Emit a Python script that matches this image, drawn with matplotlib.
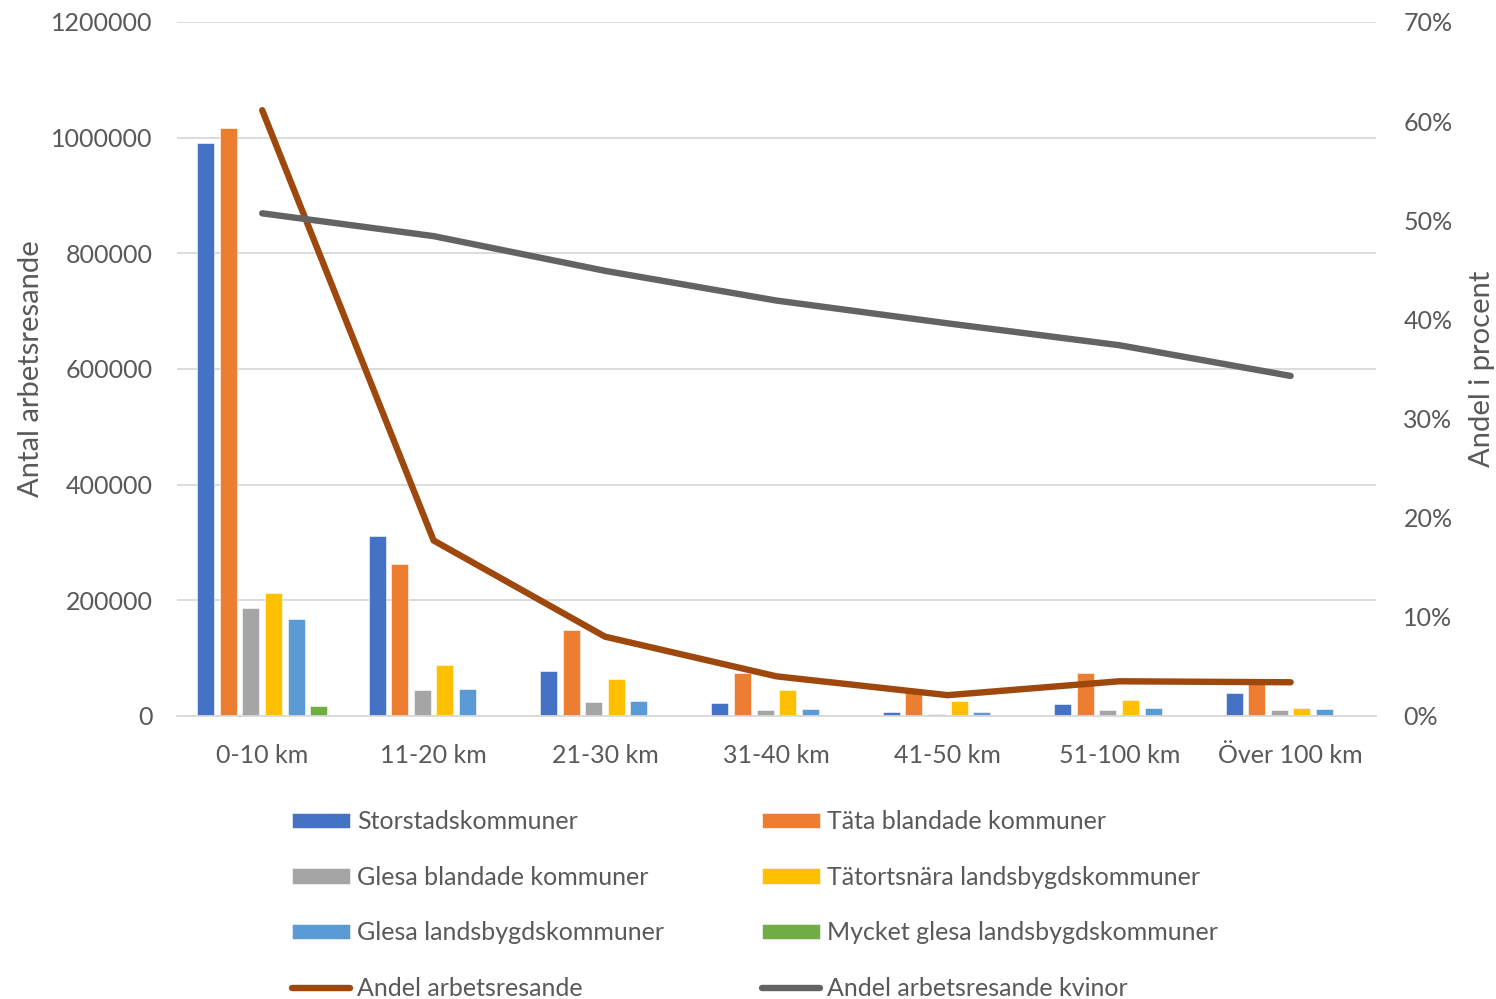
import matplotlib
matplotlib.use("Agg")
import matplotlib.pyplot as plt
import matplotlib.ticker as mticker
import numpy as np

plt.rcParams['font.family'] = ['Lato', 'DejaVu Sans']

# Avståndsklasser
categories = ['0-10 km', '11-20 km', '21-30 km', '31-40 km', '41-50 km', '51-100 km', 'Över 100 km']

# Antal arbetsresande per kommungrupp
storstad = [990000, 311000, 78000, 23000, 7000, 20000, 39000]
tata_bl = [1017000, 263000, 149000, 75000, 45000, 75000, 60000]
glesa_bl = [186000, 45000, 24000, 9500, 4000, 9500, 9500]
tatortsnara = [213000, 89000, 64000, 45000, 25500, 28500, 14500]
glesa_land = [168000, 47000, 26000, 12500, 6500, 14500, 12000]
mycket_glesa = [18000, 1500, 1000, 500, 300, 500, 500]

# Andelar (procent)
andel = [61.1, 17.7, 8.0, 4.0, 2.1, 3.5, 3.4]
andel_kvinor = [50.7, 48.4, 44.9, 41.9, 39.6, 37.4, 34.3]

bar_series = [
    ('Storstadskommuner', storstad, '#4472C4'),
    ('Täta blandade kommuner', tata_bl, '#ED7D31'),
    ('Glesa blandade kommuner', glesa_bl, '#A5A5A5'),
    ('Tätortsnära landsbygdskommuner', tatortsnara, '#FFC000'),
    ('Glesa landsbygdskommuner', glesa_land, '#5B9BD5'),
    ('Mycket glesa landsbygdskommuner', mycket_glesa, '#70AD47'),
]

text_col = '#595959'
grid_col = '#D9D9D9'
fs = 18          # tick + legend text
fs_lab = 21      # axis titles

fig = plt.figure(figsize=(14.96, 9.99), dpi=100)
ax = fig.add_axes([0.118, 0.2833, 0.802, 0.6947])
ax2 = ax.twinx()

x = np.arange(len(categories))
step = 0.132
width = 0.099
handles = {}
for i, (name, vals, col) in enumerate(bar_series):
    off = (i - 2.5) * step
    handles[name] = ax.bar(x + off, vals, width, color=col, edgecolor='white',
                           linewidth=0.4, label=name, zorder=2)

l1, = ax2.plot(x, andel, color='#9E480E', lw=4.6, solid_capstyle='round',
               solid_joinstyle='round', label='Andel arbetsresande', zorder=3)
l2, = ax2.plot(x, andel_kvinor, color='#636363', lw=4.6, solid_capstyle='round',
               solid_joinstyle='round', label='Andel arbetsresande kvinor', zorder=3)
handles['Andel arbetsresande'] = l1
handles['Andel arbetsresande kvinor'] = l2

ax.set_xlim(-0.5, len(categories) - 0.5)
ax.set_ylim(0, 1200000)
ax.set_yticks(np.arange(0, 1200001, 200000))
ax.yaxis.set_major_formatter(mticker.FuncFormatter(lambda v, p: f'{v:.0f}'))
ax2.set_ylim(0, 70)
ax2.set_yticks(np.arange(0, 71, 10))
ax2.yaxis.set_major_formatter(mticker.FuncFormatter(lambda v, p: f'{v:.0f}%'))

ax.set_xticks(x)
ax.set_xticklabels(categories)
ax.grid(axis='y', color=grid_col, linewidth=1.3, zorder=0)
ax.set_axisbelow(True)

for a in (ax, ax2):
    for s in a.spines.values():
        s.set_visible(False)
ax.spines['bottom'].set_visible(True)
ax.spines['bottom'].set_color(grid_col)
ax.spines['bottom'].set_linewidth(1.3)

ax.tick_params(axis='y', length=0, pad=17, labelsize=fs, labelcolor=text_col)
ax.tick_params(axis='x', length=0, pad=20, labelsize=fs, labelcolor=text_col)
ax2.tick_params(axis='y', length=0, pad=19.5, labelsize=fs, labelcolor=text_col)

ax.set_ylabel('Antal arbetsresande', fontsize=fs_lab, color=text_col, labelpad=5)
ax2.set_ylabel('Andel i procent', fontsize=fs_lab, color=text_col, labelpad=12)

# Legend in two columns, row order as in the original
col1 = ['Storstadskommuner', 'Glesa blandade kommuner', 'Glesa landsbygdskommuner', 'Andel arbetsresande']
col2 = ['Täta blandade kommuner', 'Tätortsnära landsbygdskommuner', 'Mycket glesa landsbygdskommuner',
        'Andel arbetsresande kvinor']
leg_kw = dict(frameon=False, fontsize=fs, labelcolor=text_col, handlelength=2.32,
              handleheight=0.56, handletextpad=0.28, labelspacing=1.31,
              borderpad=0, borderaxespad=0, loc='upper left')
leg1 = fig.legend([handles[n] for n in col1], col1, bbox_to_anchor=(292 / 1496, 1 - 810 / 999), **leg_kw)
leg2 = fig.legend([handles[n] for n in col2], col2, bbox_to_anchor=(762 / 1496, 1 - 810 / 999), **leg_kw)

fig.savefig('out.png', dpi=100)
